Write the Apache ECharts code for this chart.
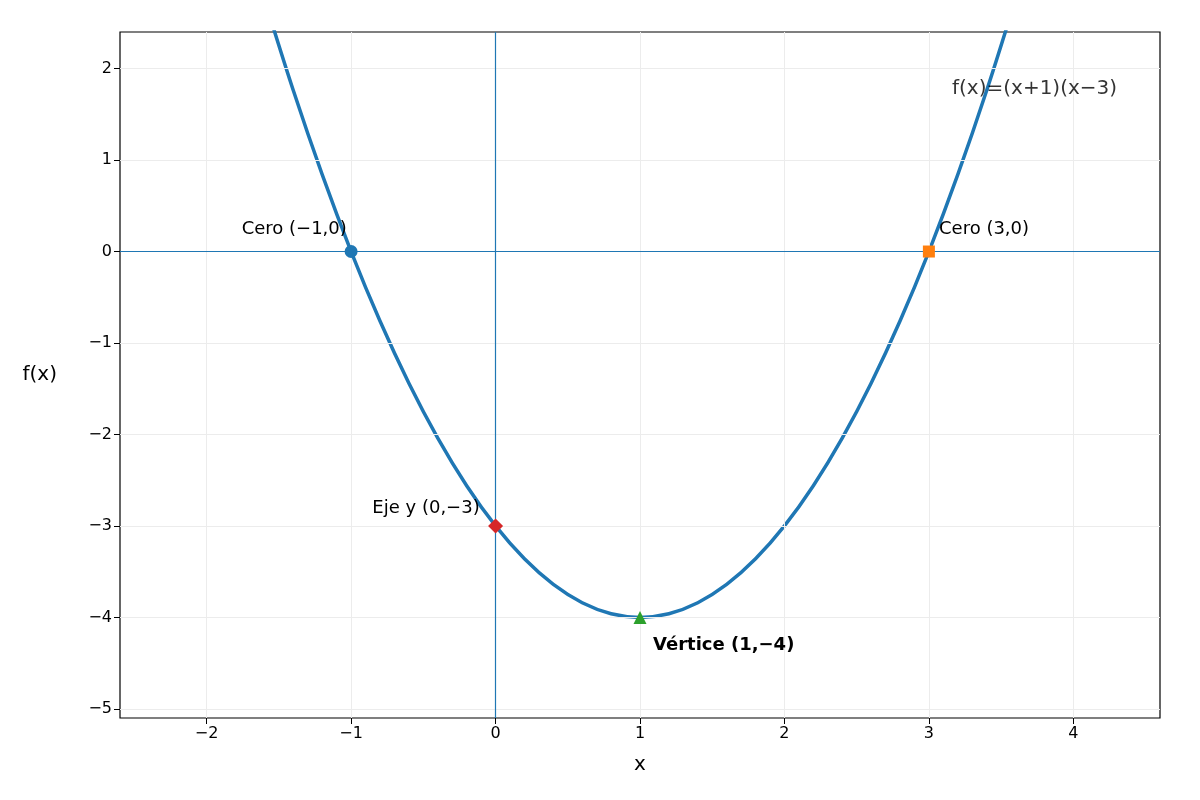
<!DOCTYPE html>
<html><head><meta charset="utf-8">
<script src="https://cdn.jsdelivr.net/npm/echarts@6/dist/echarts.min.js"></script>
<style>html,body{margin:0;background:#fff}#c{width:1200px;height:800px}</style>
</head><body><div id="c"></div>
<script>
const curveX = [-1.6,-1.4,-1.2,-1.0,-0.8,-0.6,-0.4,-0.2,0,0.2,0.4,0.6,0.8,1.0,1.2,1.4,1.6,1.8,2.0,2.2,2.4,2.6,2.8,3.0,3.2,3.4,3.6];
const curveY = [2.76,1.76,0.84,0,-0.76,-1.44,-2.04,-2.56,-3,-3.36,-3.64,-3.84,-3.96,-4,-3.96,-3.84,-3.64,-3.36,-3,-2.56,-2.04,-1.44,-0.76,0,0.84,1.76,2.76];
const xTicks = [-2,-1,0,1,2,3,4];
const yTicks = [-5,-4,-3,-2,-1,0,1,2];
const keyPoints = [
  {name:'Cero (−1,0)', x:-1, y:0, symbol:'circle', color:'#1f77b4', lx:-1.03, ly:0.24, align:'right', bold:false},
  {name:'Cero (3,0)', x:3, y:0, symbol:'rect', color:'#ff7f0e', lx:3.07, ly:0.24, align:'left', bold:false},
  {name:'Eje y (0,−3)', x:0, y:-3, symbol:'diamond', color:'#d62728', lx:-0.11, ly:-2.81, align:'right', bold:false},
  {name:'Vértice (1,−4)', x:1, y:-4, symbol:'triangle', color:'#2ca02c', lx:1.09, ly:-4.31, align:'left', bold:true}
];
const titleText = 'f(x)=(x+1)(x−3)';
const chart = echarts.init(document.getElementById('c'));
const font = 'DejaVu Sans';
const fmt = v => String(v).replace('-','−');
const series = [{
  type:'line', data: curveX.map((x,i)=>[x,curveY[i]]), smooth:0.35, showSymbol:false, clip:true,
  lineStyle:{color:'#1f77b4', width:3.5}, z:3
},{
  type:'line', data:[], z:1,
  markLine:{silent:true, symbol:'none', label:{show:false}, lineStyle:{color:'#ececec', width:1, type:'solid'},
    data: xTicks.map(v=>({xAxis:v})).concat(yTicks.map(v=>({yAxis:v})))}
},{
  type:'line', data:[], z:2,
  markLine:{silent:true, symbol:'none', label:{show:false}, lineStyle:{color:'#1f77b4', width:1.2, type:'solid'},
    data:[{xAxis:0},{yAxis:0}]}
}];
keyPoints.forEach(p=>{
  series.push({type:'scatter', z:5, symbol:p.symbol, symbolSize: p.symbol==='rect'?12:(p.symbol==='diamond'?15:13),
    itemStyle:{color:p.color, opacity:1}, data:[[p.x,p.y]]});
  series.push({type:'scatter', z:6, symbolSize:0, data:[[p.lx,p.ly]],
    label:{show:true, position:'inside', formatter:p.name, align:p.align, verticalAlign:'middle', opacity:1,
      fontSize:18, fontFamily:font, color:'#000', fontWeight:p.bold?'bold':'normal'}});
});
series.push({type:'scatter', z:6, symbolSize:0, data:[[3.16,1.78]],
  label:{show:true, position:'inside', formatter:titleText, align:'left', verticalAlign:'middle', fontSize:20, fontFamily:font, color:'#000'}});
chart.setOption({
  animation:false,
  grid:{left:120, right:40, top:32, bottom:82, show:true, borderColor:'#000', borderWidth:1.2, backgroundColor:'transparent'},
  xAxis:{type:'value', min:-2.6, max:4.6, name:'x', nameLocation:'middle', nameGap:37,
    nameTextStyle:{fontSize:20, fontFamily:font, color:'#000'},
    axisLine:{show:false, onZero:false},
    axisTick:{show:true, length:6, lineStyle:{color:'#000'}, customValues:xTicks},
    axisLabel:{fontSize:16, fontFamily:font, color:'#000', customValues:xTicks, formatter:fmt},
    splitLine:{show:false}},
  yAxis:{type:'value', min:-5.1, max:2.4, name:'f(x)', nameLocation:'middle', nameGap:63, nameRotate:0,
    nameTextStyle:{fontSize:20, fontFamily:font, color:'#000'},
    axisLine:{show:false, onZero:false},
    axisTick:{show:true, length:6, lineStyle:{color:'#000'}, customValues:yTicks},
    axisLabel:{fontSize:16, fontFamily:font, color:'#000', customValues:yTicks, formatter:fmt},
    splitLine:{show:false}},
  series
});
</script></body></html>
